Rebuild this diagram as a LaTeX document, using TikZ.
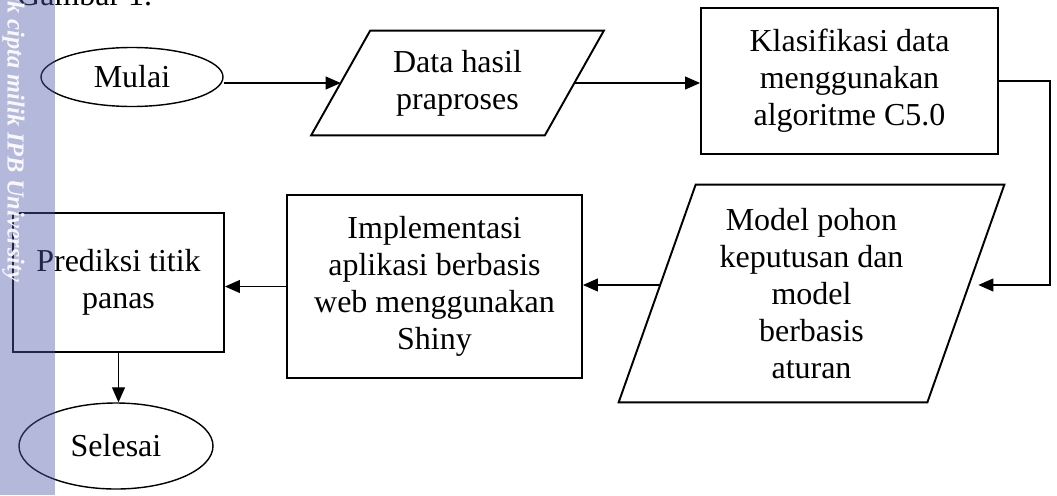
\documentclass[tikz,border=0pt]{standalone}
\usepackage{fontspec}
\setmainfont{Liberation Serif}
\usetikzlibrary{shapes.geometric,arrows.meta}
\definecolor{wmband}{RGB}{81,90,170}
\newcommand{\flowfont}{\fontsize{18.2}{21}\selectfont}
% slanted outline round a plain node: node name, slant
\newcommand{\drawslant}[2]{%
  \draw[line width=1.1pt] ([xshift=#2/2]#1.north west) -- ([xshift=#2/2]#1.north east)
    -- ([xshift=-#2/2]#1.south east) -- ([xshift=-#2/2]#1.south west) -- cycle;}
\tikzset{
  stepbox/.style={rectangle, draw, line width=1.1pt, align=center, font=\flowfont},
  iobox/.style={rectangle, align=center, inner sep=0pt, font=\flowfont},
  endpoint/.style={ellipse, draw, line width=0.8pt, inner sep=0pt, font=\flowfont},
  flow/.style={-{Triangle[length=0.3cm,width=0.26cm]}, line width=0.6pt},
}
\begin{document}
\begin{tikzpicture}
        \useasboundingbox (0,0) rectangle (21.14,-9.9);
        \clip (0,0) rectangle (21.14,-9.9);
        \node[anchor=base west, font=\flowfont] (caption) at (0.22,-0.1) {Gambar 1.};

        \node[endpoint, minimum width=3.64cm, minimum height=1.18cm] (start)
             at (2.64,-1.54) {Mulai};
        \node[iobox, minimum width=4.66cm, minimum height=2.08cm] (prepdata)
             at (9.15,-1.66) {Data hasil\\praproses};
        \drawslant{prepdata}{1.18cm}
        \node[stepbox, minimum width=5.94cm, minimum height=2.92cm] (classify)
             at (16.99,-1.62) {Klasifikasi data\\menggunakan\\algoritme C5.0};

        \node[iobox, minimum width=6.16cm, minimum height=4.34cm] (treemodel)
             at (16.23,-5.87) {Model pohon\\keputusan dan\\model\\berbasis\\aturan};
        \drawslant{treemodel}{1.54cm}
        \node[stepbox, minimum width=5.9cm, minimum height=3.66cm] (webapp)
             at (8.69,-5.73) {Implementasi\\aplikasi berbasis\\web menggunakan\\Shiny};
        \node[stepbox, minimum width=4.22cm, minimum height=2.78cm] (predict)
             at (2.37,-5.65) {Prediksi titik\\panas};
        \node[endpoint, minimum width=3.88cm, minimum height=1.72cm] (finish)
             at (2.32,-8.92) {Selesai};

        \coordinate (treein) at ([xshift=0.25cm,yshift=0.17cm]treemodel.east);
        \coordinate (treeout) at ([xshift=0.06cm,yshift=0.17cm]treemodel.west);

        \draw[flow] (start.east |- prepdata.west) -- (prepdata.west);
        \draw[flow] (prepdata.east) -- (prepdata.east -| classify.west);
        \draw[flow] (classify.east) -- ++(1.02,0) |- (treein);
        \draw[flow] (treeout) -- (treeout -| webapp.east);
        \draw[flow] (webapp.west) -- (webapp.west -| predict.east);
        \draw[flow] (predict.south) -- (predict.south |- finish.north);

        % watermark strip
        \fill[wmband, opacity=0.43] (0,0) rectangle (1.1,-9.9);
        \node[rotate=-90, anchor=base west, text=white, opacity=0.92,
              font=\fontsize{13.9}{16}\selectfont\bfseries\itshape] (mark)
             at (0.15,0.72) {Hak cipta milik IPB University};
\end{tikzpicture}
\end{document}
